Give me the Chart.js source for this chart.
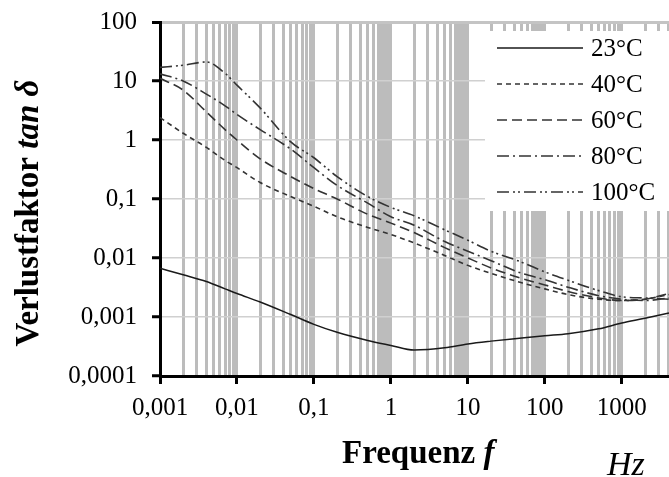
<!DOCTYPE html>
<html lang="de">
<head>
<meta charset="utf-8">
<title>Verlustfaktor tan δ</title>
<script src="https://cdn.jsdelivr.net/npm/chart.js@4.4.1/dist/chart.umd.min.js"></script>
<style>
    html, body { margin: 0; padding: 0; background: #fff; }
</style>
</head>
<body>
<canvas id="chartVerlust" width="669" height="477"></canvas>
<script>
// Frequenz in Hz
const frequencies = [0.001, 0.002, 0.004, 0.007, 0.01, 0.02, 0.05, 0.1, 0.2, 0.5, 1, 2, 5, 10, 20, 50, 100, 200, 500, 1000, 2000, 4100];

// tan delta per temperature
const tan23 = [0.0067, 0.0052, 0.0040, 0.0030, 0.0025, 0.0018, 0.0011, 0.00075, 0.00055, 0.0004, 0.00033, 0.000275, 0.0003, 0.00035, 0.00039, 0.00044, 0.00048, 0.00052, 0.00063, 0.00079, 0.00095, 0.00117];
const tan40 = [2.4, 1.3, 0.75, 0.45, 0.34, 0.19, 0.11, 0.075, 0.05, 0.033, 0.025, 0.018, 0.011, 0.0075, 0.0055, 0.0038, 0.003, 0.0024, 0.002, 0.0019, 0.002, 0.0024];
const tan60 = [11.1, 7, 3, 1.5, 1.0, 0.48, 0.24, 0.15, 0.1, 0.055, 0.039, 0.027, 0.015, 0.01, 0.0068, 0.0045, 0.0035, 0.0027, 0.0021, 0.0019, 0.002, 0.0025];
const tan80 = [13.2, 10, 6, 3.8, 2.7, 1.5, 0.7, 0.34, 0.17, 0.085, 0.05, 0.036, 0.019, 0.013, 0.009, 0.0055, 0.0043, 0.0032, 0.0023, 0.002, 0.0019, 0.0021];
const tan100 = [17, 18.5, 21, 13.5, 8.5, 3.5, 0.93, 0.5, 0.24, 0.11, 0.072, 0.052, 0.03, 0.02, 0.013, 0.0085, 0.0058, 0.0042, 0.0028, 0.0022, 0.0021, 0.002];

const seriesLabels = ['23°C', '40°C', '60°C', '80°C', '100°C'];
const seriesValues = [tan23, tan40, tan60, tan80, tan100];
const seriesDash = [[], [5, 4], [10, 5], [12, 4, 2, 4], [12, 4, 2, 3, 2, 4]];

const xDecades = [0.001, 0.01, 0.1, 1, 10, 100, 1000];
const yDecades = [0.0001, 0.001, 0.01, 0.1, 1, 10, 100];
const gridSteps = [2, 3, 4, 5, 6, 7, 8, 9];
const gridFill = [7.5, 8.5, 9.5];          // dense gray bands before 1, 10, 100
const fillDecades = [0.1, 1, 10];

const FONT = "'Liberation Serif', 'Times New Roman', serif";

function isDecade(v) {
    const l = Math.log10(v);
    return Math.abs(l - Math.round(l)) < 1e-9;
}

function decimalComma(v) {
    return String(v).replace('.', ',');
}

function noPadding(scale) {
    scale.paddingLeft = 0;
    scale.paddingRight = 0;
    scale.paddingTop = 0;
    scale.paddingBottom = 0;
}

// Gridline positions along the frequency axis
const xGridValues = [];
xDecades.forEach(d => {
    xGridValues.push(d);
    gridSteps.forEach(m => xGridValues.push(d * m));
    if (fillDecades.includes(d)) gridFill.forEach(m => xGridValues.push(d * m));
});
xGridValues.sort((a, b) => a - b);

const datasets = seriesLabels.map((label, i) => ({
    label: label,
    data: frequencies.map((f, j) => ({ x: f, y: seriesValues[i][j] })),
    borderColor: i === 0 ? '#1a1a1a' : '#333',
    borderWidth: i === 0 ? 1.5 : 1.6,
    borderDash: seriesDash[i],
    pointRadius: 0,
    fill: false,
    cubicInterpolationMode: 'monotone'
}));

// White legend box, legend entries and axis titles
const decorPlugin = {
    id: 'decor',
    afterDatasetsDraw(chart) {
        const ctx = chart.ctx;
        ctx.save();
        ctx.fillStyle = '#fff';
        ctx.fillRect(485, 31, 184, 180);

        const rowY = [48, 84, 120, 156, 192];
        chart.data.datasets.forEach((ds, i) => {
            ctx.beginPath();
            ctx.setLineDash(ds.borderDash);
            ctx.strokeStyle = ds.borderColor;
            ctx.lineWidth = ds.borderWidth;
            ctx.moveTo(497, rowY[i]);
            ctx.lineTo(583, rowY[i]);
            ctx.stroke();
            ctx.setLineDash([]);
            ctx.fillStyle = '#000';
            ctx.font = '25px ' + FONT;
            ctx.textBaseline = 'middle';
            ctx.fillText(ds.label, 591, rowY[i] + 1);
        });
        ctx.restore();
    },
    afterDraw(chart) {
        const ctx = chart.ctx;
        ctx.save();
        ctx.fillStyle = '#000';
        ctx.textBaseline = 'alphabetic';

        // y title, rotated
        const bold = 'bold 33px ' + FONT;
        const boldIt = 'italic bold 33px ' + FONT;
        ctx.font = bold;
        const w1 = ctx.measureText('Verlustfaktor ').width;
        ctx.font = boldIt;
        const w2 = ctx.measureText('tan δ').width;
        ctx.translate(38, 213);
        ctx.rotate(-Math.PI / 2);
        ctx.font = bold;
        ctx.fillText('Verlustfaktor ', -(w1 + w2) / 2, 0);
        ctx.font = boldIt;
        ctx.fillText('tan δ', -(w1 + w2) / 2 + w1, 0);
        ctx.setTransform(1, 0, 0, 1, 0, 0);

        // x title
        ctx.font = bold;
        ctx.fillText('Frequenz ', 342, 463);
        const w3 = ctx.measureText('Frequenz ').width;
        ctx.font = boldIt;
        ctx.fillText('f', 342 + w3, 463);

        ctx.font = 'italic 34px ' + FONT;
        ctx.fillText('Hz', 607, 475);
        ctx.restore();
    }
};

const chart = new Chart(document.getElementById('chartVerlust'), {
    type: 'line',
    data: { datasets: datasets },
    plugins: [decorPlugin],
    options: {
        responsive: false,
        animation: false,
        layout: { padding: { top: 22, right: 0, left: 0, bottom: 0 } },
        plugins: {
            legend: { display: false },
            tooltip: { enabled: false }
        },
        scales: {
            x: {
                type: 'logarithmic',
                min: 0.001,
                max: 4100,
                afterBuildTicks: scale => {
                    scale.ticks = xGridValues.map(v => ({ value: v }));
                },
                afterFit: scale => {
                    scale.height = 101;
                    noPadding(scale);
                },
                ticks: {
                    autoSkip: false,
                    maxRotation: 0,
                    padding: 9,
                    color: '#000',
                    font: { family: FONT, size: 25 },
                    callback: v => isDecade(v) ? decimalComma(v) : ''
                },
                grid: {
                    color: '#bcbcbc',
                    lineWidth: 3,
                    tickLength: 8,
                    tickColor: '#000',
                    tickWidth: c => isDecade(c.tick.value) ? 3 : 0
                },
                border: { color: '#000', width: 3 }
            },
            y: {
                type: 'logarithmic',
                min: 0.0001,
                max: 100,
                afterBuildTicks: scale => {
                    scale.ticks = yDecades.map(v => ({ value: v }));
                },
                afterFit: scale => {
                    scale.width = 160;
                    noPadding(scale);
                },
                ticks: {
                    padding: 15,
                    color: '#000',
                    font: { family: FONT, size: 25 },
                    callback: v => decimalComma(v)
                },
                grid: {
                    color: c => c.tick.value === 100 ? '#c4c4c4' : '#d0d0d0',
                    lineWidth: c => c.tick.value === 100 ? 3 : 1.5,
                    tickLength: 8,
                    tickColor: '#000',
                    tickWidth: 3
                },
                border: { color: '#000', width: 3 }
            }
        }
    }
});
</script>
</body>
</html>
